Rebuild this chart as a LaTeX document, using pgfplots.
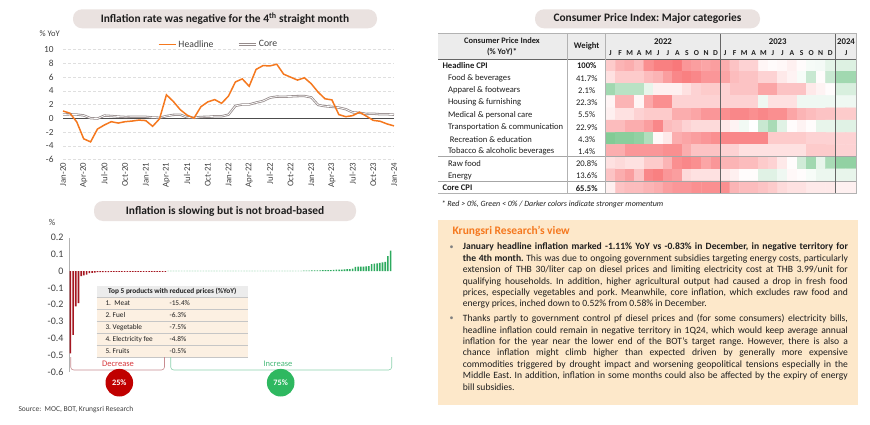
\documentclass[border=0pt]{standalone}
\usepackage{fontspec}
\setmainfont{Carlito}
\usepackage{pgfplots}
\pgfplotsset{compat=1.18}
\frenchspacing

\definecolor{orangeK}{RGB}{245,120,30}
\definecolor{pill}{RGB}{234,226,224}
\definecolor{coregray}{RGB}{150,140,140}
\definecolor{barred}{RGB}{165,22,32}
\definecolor{bargreen}{RGB}{45,170,95}
\definecolor{peach}{RGB}{253,232,202}
\definecolor{peachlt}{RGB}{252,240,226}
\definecolor{hdrgray}{RGB}{236,236,236}
\definecolor{txt}{RGB}{30,30,30}
\definecolor{ticktxt}{RGB}{64,64,64}
\definecolor{circred}{RGB}{192,0,0}
\definecolor{circgreen}{RGB}{46,184,96}
\definecolor{decred}{RGB}{215,55,60}
\definecolor{decbr}{RGB}{200,140,145}
\definecolor{incgreen}{RGB}{70,185,120}
\definecolor{incbr}{RGB}{140,210,175}

\newcommand{\fs}[2]{\fontsize{#1}{#2}\selectfont}

\begin{document}
\begin{tikzpicture}[x=1pt,y=1pt]
\path[fill=white, use as bounding box] (0,0) rectangle (870,-425);

% ---------- titles
\fill[pill, rounded corners=9pt] (73,-9.3) rectangle (377,-28.3);
\node[font=\fs{11.4}{13}\bfseries, text=txt] at (225,-18.8) {Inflation rate was negative for the 4\textsuperscript{th} straight month};
\fill[pill, rounded corners=9pt] (94,-201) rectangle (356,-221);
\node[font=\fs{11.4}{13}\bfseries, text=txt] at (225,-211) {Inflation is slowing but is not broad-based};
\fill[pill, rounded corners=9pt] (535,-9.3) rectangle (760,-28.3);
\node[font=\fs{11.4}{13}\bfseries, text=txt] at (647.5,-18.8) {Consumer Price Index: Major categories};

% ---------- headline and core CPI
\node[anchor=west, font=\fs{8.5}{9}, text=ticktxt] at (36,-34) {\% YoY};
\begin{axis}[
  at={(63pt,-159.5pt)}, anchor=south west,
  scale only axis, width=331pt, height=110pt,
  xmin=0, xmax=48, ymin=-6, ymax=10,
  axis line style={draw=none},
  major tick style={draw=none},
  ytick={-6,-4,...,10},
  xtick={0,3,...,48},
  xticklabels={Jan-20,Apr-20,Jul-20,Oct-20,Jan-21,Apr-21,Jul-21,Oct-21,Jan-22,Apr-22,Jul-22,Oct-22,Jan-23,Apr-23,Jul-23,Oct-23,Jan-24},
  x tick label style={rotate=90, anchor=east, font=\fs{8.8}{9}, text=ticktxt},
  y tick label style={font=\fs{9.3}{10}, text=ticktxt, xshift=-6pt},
  /pgf/number format/assume math mode=true,
  ymajorgrids, grid style={densely dashed, gray!25, line width=0.4pt},
  clip=false,
  reverse legend,
  legend style={at={(0.47,1.045)}, anchor=center, draw=none, fill=none,
    legend columns=2, font=\fs{9.7}{10}, text=ticktxt,
    /tikz/every even column/.append style={column sep=22pt}},
  legend cell align=left,
]
\draw[black!70, line width=0.6pt] (axis cs:0,0) -- (axis cs:48,0);
\addplot[coregray, line width=0.8pt, double=white, double distance=0.7pt] coordinates {
(0,0.55) (1,0.57) (2,0.54) (3,0.41) (4,0.01) (5,-0.05) (6,0.39) (7,0.33) (8,0.25) (9,0.19) (10,0.21) (11,0.21)
(12,0.21) (13,0.11) (14,0.08) (15,0.32) (16,0.49) (17,0.52) (18,0.14) (19,0.07) (20,0.19) (21,0.21) (22,0.29) (23,0.29)
(24,0.52) (25,1.80) (26,2.00) (27,2.00) (28,2.28) (29,2.51) (30,2.99) (31,3.15) (32,3.12) (33,3.17) (34,3.22) (35,3.23)
(36,3.04) (37,1.93) (38,1.75) (39,1.66) (40,1.55) (41,1.32) (42,0.86) (43,0.79) (44,0.63) (45,0.66) (46,0.58) (47,0.58)
(48,0.52)};
\addlegendentry{Core}
\addplot[orangeK, line width=1.5pt] coordinates {
(0,1.05) (1,0.74) (2,-0.54) (3,-2.99) (4,-3.44) (5,-1.57) (6,-0.98) (7,-0.50) (8,-0.70) (9,-0.50) (10,-0.41) (11,-0.27)
(12,-0.34) (13,-1.17) (14,-0.08) (15,3.41) (16,2.44) (17,1.25) (18,0.45) (19,0.02) (20,1.68) (21,2.38) (22,2.71) (23,2.17)
(24,3.23) (25,5.28) (26,5.73) (27,4.65) (28,7.10) (29,7.66) (30,7.61) (31,7.86) (32,6.41) (33,5.98) (34,5.55) (35,5.89)
(36,5.02) (37,3.79) (38,2.83) (39,2.67) (40,0.53) (41,0.23) (42,0.38) (43,0.88) (44,0.30) (45,-0.31) (46,-0.44) (47,-0.83)
(48,-1.11)};
\addlegendentry{Headline}
\end{axis}

% ---------- contributions by item
\node[font=\fs{9}{10}, text=ticktxt] at (52,-222) {\%};
\begin{axis}[
  at={(69pt,-371.7pt)}, anchor=south west,
  scale only axis, width=323pt, height=134pt,
  xmin=0.5, xmax=119.5, ymin=-0.6, ymax=0.2,
  axis x line=none, axis y line*=left,
  axis line style={gray!60, line width=0.6pt},
  major tick style={draw=none},
  ytick={-0.6,-0.5,-0.4,-0.3,-0.2,-0.1,0,0.1,0.2},
  yticklabels={-0.6,-0.5,-0.4,-0.3,-0.2,-0.1,0,0.1,0.2},
  y tick label style={font=\fs{10}{11}, text=ticktxt, xshift=-2pt},
  clip=false,
]
\addplot[ybar, bar width=0.6, bar shift=0pt, fill=barred, draw=none] coordinates {
(1,-0.49) (2,-0.38) (3,-0.21) (4,-0.19) (5,-0.03) (6,-0.025) (7,-0.02) (8,-0.012) (9,-0.01) (10,-0.008)
(11,-0.006) (12,-0.006) (13,-0.005) (14,-0.005) (15,-0.005) (16,-0.004) (17,-0.004) (18,-0.004) (19,-0.004) (20,-0.004)
(21,-0.004) (22,-0.004) (23,-0.004) (24,-0.004) (25,-0.004) (26,-0.004) (27,-0.004) (28,-0.004) (29,-0.004) (30,-0.004)
(31,-0.004) (32,-0.004) (33,-0.004) (34,-0.004) (35,-0.004) (36,-0.004)};
\addplot[ybar, bar width=0.6, bar shift=0pt, fill=bargreen, draw=none] coordinates {
(37,0.002) (38,0.002) (39,0.002) (40,0.002) (41,0.002) (42,0.002) (43,0.002) (44,0.002) (45,0.002) (46,0.002)
(47,0.002) (48,0.002) (49,0.002) (50,0.002) (51,0.002) (52,0.002) (53,0.002) (54,0.002) (55,0.002) (56,0.002)
(57,0.002) (58,0.002) (59,0.002) (60,0.002) (61,0.002) (62,0.002) (63,0.002) (64,0.002) (65,0.002) (66,0.002)
(67,0.002) (68,0.002) (69,0.002) (70,0.002) (71,0.002) (72,0.002) (73,0.002) (74,0.002) (75,0.002) (76,0.002)
(77,0.002) (78,0.002) (79,0.002) (80,0.002) (81,0.002) (82,0.002) (83,0.002) (84,0.002) (85,0.002) (86,0.002)
(87,0.004) (88,0.004) (89,0.004) (90,0.005) (91,0.005) (92,0.005) (93,0.005) (94,0.006) (95,0.006) (96,0.006)
(97,0.007) (98,0.008) (99,0.009) (100,0.01) (101,0.01) (102,0.011) (103,0.012) (104,0.013) (105,0.015) (106,0.026)
(107,0.027) (108,0.028) (109,0.028) (110,0.029) (111,0.03) (112,0.042) (113,0.045) (114,0.047) (115,0.05) (116,0.052)
(117,0.055) (118,0.09) (119,0.123)};
\end{axis}

% inset table
\fill[hdrgray] (96.7,-285.7) rectangle (248,-297);
\fill[peachlt] (96.7,-297) rectangle (248,-357.3);
\foreach \yy in {297,309,321.2,333.2,345.3,357.3}
  \draw[gray!45, line width=0.5pt] (96.7,-\yy) -- (248,-\yy);
\node[font=\fs{7.3}{8}\bfseries, text=txt] at (172.3,-291.3) {Top 5 products with reduced prices (\%YoY)};
\foreach \lab/\val/\yy in {1.\ \ Meat/-15.4\%/303, 2. Fuel/-6.3\%/315.1, 3. Vegetable/-7.5\%/327.2, 4. Electricity fee/-4.8\%/339.2, 5. Fruits/-0.5\%/351.3}{
  \node[anchor=west, font=\fs{7.3}{8}, text=txt] at (102,-\yy) {\lab};
  \node[anchor=west, font=\fs{7.3}{8}, text=txt] at (166,-\yy) {\val};
}

% brackets and shares
\draw[decbr, line width=0.6pt, rounded corners=3pt] (70.7,-357) -- (70.7,-370) -- (164.5,-370) -- (164.5,-357);
\node[font=\fs{8.5}{9}, text=decred] at (118,-364) {Decrease};
\draw[incbr, line width=0.6pt, rounded corners=3pt] (170.7,-357) -- (170.7,-370) -- (391.7,-370) -- (391.7,-357);
\node[font=\fs{8.5}{9}, text=incgreen] at (278,-364) {Increase};
\fill[circred] (119.3,-382.7) circle (13.8);
\node[font=\fs{8.3}{9}\bfseries, text=white] at (119.3,-382.7) {25\%};
\fill[circgreen] (280.7,-382.7) circle (13.8);
\node[font=\fs{8.3}{9}\bfseries, text=white] at (280.7,-382.7) {75\%};
\node[anchor=west, font=\fs{7.5}{8}, text=ticktxt] at (15,-410) {Source:\ \ MOC, BOT, Krungsri Research};

% ---------- CPI heat table
\fill[hdrgray] (438,-33.7) rectangle (856.7,-59);
\begin{axis}[
  at={(605.7pt,-193.3pt)}, anchor=south west,
  scale only axis, width=229.3pt, height=134.3pt,
  xmin=-0.5, xmax=23.5, ymin=-0.5, ymax=10.5, y dir=reverse,
  hide axis,
  colormap={cpi}{rgb255(0cm)=(99,190,123); rgb255(1cm)=(255,255,255); rgb255(2cm)=(248,105,107)},
  point meta min=-1, point meta max=1,
]
\addplot[matrix plot*, mesh/cols=24, point meta=explicit] coordinates {
(0,0)[0.35] (1,0)[0.5] (2,0)[0.55] (3,0)[0.45] (4,0)[0.75] (5,0)[0.85] (6,0)[0.85] (7,0)[0.9] (8,0)[0.7] (9,0)[0.65] (10,0)[0.6] (11,0)[0.65] (12,0)[0.55] (13,0)[0.4] (14,0)[0.3] (15,0)[0.3] (16,0)[0.06] (17,0)[0.03] (18,0)[0.05] (19,0)[0.1] (20,0)[0.03] (21,0)[-0.06] (22,0)[-0.07] (23,0)[-0.17]
(0,1)[0.2] (1,1)[0.35] (2,1)[0.35] (3,1)[0.35] (4,1)[0.45] (5,1)[0.5] (6,1)[0.65] (7,1)[0.8] (8,1)[0.85] (9,1)[0.8] (10,1)[0.7] (11,1)[0.7] (12,1)[0.6] (13,1)[0.45] (14,1)[0.4] (15,1)[0.4] (16,1)[0.3] (17,1)[0.3] (18,1)[0.15] (19,1)[0.08] (20,1)[-0.05] (21,1)[-0.35] (22,1)[0.02] (23,1)[-0.35]
(0,2)[-0.6] (1,2)[-0.45] (2,2)[-0.45] (3,2)[-0.45] (4,2)[-0.15] (5,2)[0.1] (6,2)[0.1] (7,2)[0.1] (8,2)[0.2] (9,2)[0.3] (10,2)[0.35] (11,2)[0.35] (12,2)[0.3] (13,2)[0.4] (14,2)[0.4] (15,2)[0.4] (16,2)[0.6] (17,2)[0.6] (18,2)[0.4] (19,2)[0.4] (20,2)[0.4] (21,2)[0.15] (22,2)[0.08] (23,2)[0.02]
(0,3)[0.07] (1,3)[0.5] (2,3)[0.5] (3,3)[0.07] (4,3)[0.58] (5,3)[0.75] (6,3)[0.75] (7,3)[0.3] (8,3)[0.3] (9,3)[0.3] (10,3)[0.3] (11,3)[0.3] (12,3)[0.3] (13,3)[0.3] (14,3)[0.3] (15,3)[0.3] (16,3)[-0.1] (17,3)[0.2] (18,3)[0.2] (19,3)[0.2] (20,3)[-0.1] (21,3)[-0.1] (22,3)[-0.1] (23,3)[-0.1]
(0,4)[0.1] (1,4)[0.2] (2,4)[0.2] (3,4)[0.3] (4,4)[0.35] (5,4)[0.35] (6,4)[0.35] (7,4)[0.55] (8,4)[0.55] (9,4)[0.6] (10,4)[0.7] (11,4)[0.7] (12,4)[0.75] (13,4)[0.8] (14,4)[0.8] (15,4)[0.75] (16,4)[0.8] (17,4)[0.75] (18,4)[0.75] (19,4)[0.6] (20,4)[0.5] (21,4)[0.45] (22,4)[0.4] (23,4)[0.4]
(0,5)[0.45] (1,5)[0.45] (2,5)[0.55] (3,5)[0.55] (4,5)[0.65] (5,5)[0.8] (6,5)[0.45] (7,5)[0.4] (8,5)[0.3] (9,5)[0.25] (10,5)[0.25] (11,5)[0.25] (12,5)[0.15] (13,5)[0.08] (14,5)[-0.08] (15,5)[0] (16,5)[-0.35] (17,5)[-0.55] (18,5)[-0.2] (19,5)[0.02] (20,5)[0.08] (21,5)[0.02] (22,5)[-0.15] (23,5)[-0.15]
(0,6)[-0.8] (1,6)[-0.75] (2,6)[-0.75] (3,6)[-0.7] (4,6)[-0.5] (5,6)[0.05] (6,6)[0.15] (7,6)[0.55] (8,6)[0.6] (9,6)[0.65] (10,6)[0.7] (11,6)[0.75] (12,6)[0.8] (13,6)[0.8] (14,6)[0.8] (15,6)[0.8] (16,6)[0.8] (17,6)[0.35] (18,6)[0.35] (19,6)[0.35] (20,6)[0.35] (21,6)[0.3] (22,6)[0.3] (23,6)[0.3]
(0,7)[0.55] (1,7)[0.55] (2,7)[0.7] (3,7)[0.7] (4,7)[0.7] (5,7)[0.7] (6,7)[0.75] (7,7)[0.75] (8,7)[0.55] (9,7)[0.4] (10,7)[0.4] (11,7)[0.4] (12,7)[0.3] (13,7)[0.3] (14,7)[0.2] (15,7)[0.2] (16,7)[0.2] (17,7)[0.2] (18,7)[0.2] (19,7)[0.2] (20,7)[0.2] (21,7)[0.35] (22,7)[0.35] (23,7)[0.35]
(0,8)[0.2] (1,8)[0.25] (2,8)[0.2] (3,8)[0.2] (4,8)[0.35] (5,8)[0.35] (6,8)[0.5] (7,8)[0.75] (8,8)[0.8] (9,8)[0.75] (10,8)[0.6] (11,8)[0.7] (12,8)[0.5] (13,8)[0.5] (14,8)[0.45] (15,8)[0.45] (16,8)[0.35] (17,8)[0.3] (18,8)[0.15] (19,8)[0.02] (20,8)[-0.3] (21,8)[-0.6] (22,8)[-0.15] (23,8)[-0.55]
(0,9)[0.4] (1,9)[0.55] (2,9)[0.65] (3,9)[0.4] (4,9)[0.8] (5,9)[0.85] (6,9)[0.7] (7,9)[0.65] (8,9)[0.25] (9,9)[0.2] (10,9)[0.2] (11,9)[0.2] (12,9)[0.15] (13,9)[0.1] (14,9)[0.02] (15,9)[0.02] (16,9)[-0.2] (17,9)[-0.2] (18,9)[-0.1] (19,9)[0.05] (20,9)[0.02] (21,9)[-0.05] (22,9)[-0.12] (23,9)[-0.12]
(0,10)[0.1] (1,10)[0.4] (2,10)[0.45] (3,10)[0.45] (4,10)[0.5] (5,10)[0.55] (6,10)[0.65] (7,10)[0.7] (8,10)[0.7] (9,10)[0.75] (10,10)[0.75] (11,10)[0.75] (12,10)[0.75] (13,10)[0.5] (14,10)[0.45] (15,10)[0.45] (16,10)[0.4] (17,10)[0.35] (18,10)[0.25] (19,10)[0.2] (20,10)[0.2] (21,10)[0.15] (22,10)[0.15] (23,10)[0.15]
};
\end{axis}
\begin{axis}[
  at={(835pt,-193.3pt)}, anchor=south west,
  scale only axis, width=21.7pt, height=134.3pt,
  xmin=-0.5, xmax=1.5, ymin=-0.5, ymax=10.5, y dir=reverse,
  hide axis,
  colormap={cpi}{rgb255(0cm)=(99,190,123); rgb255(1cm)=(255,255,255); rgb255(2cm)=(248,105,107)},
  point meta min=-1, point meta max=1,
]
\addplot[matrix plot*, mesh/cols=2, point meta=explicit] coordinates {
(0,0)[-0.22] (1,0)[-0.22]
(0,1)[-0.6] (1,1)[-0.6]
(0,2)[-0.25] (1,2)[-0.25]
(0,3)[-0.1] (1,3)[-0.1]
(0,4)[0.35] (1,4)[0.35]
(0,5)[-0.2] (1,5)[-0.2]
(0,6)[0.3] (1,6)[0.3]
(0,7)[0.3] (1,7)[0.3]
(0,8)[-0.7] (1,8)[-0.7]
(0,9)[-0.15] (1,9)[-0.15]
(0,10)[0.1] (1,10)[0.1]
};
\end{axis}

% table rules
\draw[gray!60, line width=0.8pt] (438,-33.7) -- (856.7,-33.7);
\draw[gray!80!black, line width=0.8pt] (438,-59) -- (856.7,-59);
\draw[gray!70, line width=0.6pt] (438,-156.7) -- (856.7,-156.7);
\draw[gray!70, line width=1.2pt] (438,-181.1) -- (856.7,-181.1);
\draw[gray!60, line width=0.8pt] (438,-193.3) -- (856.7,-193.3);
\draw[gray!60, line width=0.6pt] (567.7,-33.7) -- (567.7,-193.3);
\draw[gray!60, line width=0.6pt] (605.7,-33.7) -- (605.7,-193.3);
\draw[gray!80!black, line width=0.8pt] (720.35,-33.7) -- (720.35,-193.3);
\draw[gray!80!black, line width=0.8pt] (835,-33.7) -- (835,-193.3);
\draw[gray!60, line width=0.6pt] (856.7,-33.7) -- (856.7,-193.3);

% header text
\node[font=\fs{8.4}{9}\bfseries, text=txt] at (502,-41) {Consumer Price Index};
\node[font=\fs{8.4}{9}\bfseries, text=txt] at (502,-52.3) {(\% YoY)*};
\node[font=\fs{8.6}{9}\bfseries, text=txt] at (586.7,-46.7) {Weight};
\node[font=\fs{8.8}{9}\bfseries, text=txt] at (663,-41.7) {2022};
\node[font=\fs{8.8}{9}\bfseries, text=txt] at (777.7,-41.7) {2023};
\node[font=\fs{8.8}{9}\bfseries, text=txt] at (846,-41.7) {2024};
\foreach \m [count=\k from 0] in {J,F,M,A,M,J,J,A,S,O,N,D,J,F,M,A,M,J,J,A,S,O,N,D}
  \node[font=\fs{7.6}{8}\bfseries, text=txt] at ({605.7+9.554*(\k+0.5)},-53.3) {\m};
\node[font=\fs{7.6}{8}\bfseries, text=txt] at (846,-53.3) {J};

% row labels and weights
\node[anchor=west, font=\fs{8.6}{9}\bfseries, text=txt] at (439,-66) {Headline CPI};
\node[font=\fs{8.6}{9}\bfseries, text=txt] at (586.7,-66) {100\%};
\foreach \lab/\w/\yy/\xx in {Food \& beverages/41.7\%/78.3/444.5, Apparel \& footwears/2.1\%/90.5/444.5, Housing \& furnishing/22.3\%/102.7/444.5, Medical \& personal care/5.5\%/115/444.5, Transportation \& communication/22.9\%/127.2/444.5, Recreation \& education/4.3\%/139.4/446.3, Tobacco \& alcoholic beverages/1.4\%/151.6/444.5, Raw food/20.8\%/163.8/444.5, Energy/13.6\%/176/444.5}{
  \node[anchor=west, font=\fs{8.6}{9}, text=txt] at (\xx,-\yy) {\lab};
  \node[font=\fs{8.6}{9}, text=txt] at (586.7,-\yy) {\w};
}
\node[anchor=west, font=\fs{8.6}{9}\bfseries, text=txt] at (439,-188.2) {Core CPI};
\node[font=\fs{8.6}{9}\bfseries, text=txt] at (586.7,-188.2) {65.5\%};
\node[anchor=west, font=\fs{8}{9}\itshape, text=txt] at (438,-204) {* Red > 0\%, Green < 0\% / Darker colors indicate stronger momentum};

% ---------- view box
\fill[peach] (438,-220) rectangle (857.5,-405);
\node[anchor=west, font=\fs{11.5}{13}\bfseries, text=orangeK] at (449,-231.7) {Krungsri Research’s view};
\node[font=\fs{8}{9}, text=gray] at (451.7,-247.3) {\textbullet};
\node[anchor=north west, inner sep=0pt, text width=385pt, align=justify, font=\fs{9.6}{11.4}, text=txt] at (462.7,-243) {\textbf{January headline inflation marked -1.11\% YoY vs -0.83\% in December, in negative territory for\linebreak the 4th month.} This was due to ongoing government subsidies targeting energy costs, particularly\linebreak extension of THB 30/liter cap on diesel prices and limiting electricity cost at THB 3.99/unit for\linebreak qualifying households. In addition, higher agricultural output had caused a drop in fresh food\linebreak prices, especially vegetables and pork. Meanwhile, core inflation, which excludes raw food and\linebreak energy prices, inched down to 0.52\% from 0.58\% in December.};
\node[font=\fs{8}{9}, text=gray] at (451.7,-318.7) {\textbullet};
\node[anchor=north west, inner sep=0pt, text width=385pt, align=justify, font=\fs{9.6}{11.4}, text=txt] at (462.7,-314.4) {Thanks partly to government control pf diesel prices and (for some consumers) electricity bills,\linebreak headline inflation could remain in negative territory in 1Q24, which would keep average annual\linebreak inflation for the year near the lower end of the BOT’s target range. However, there is also a\linebreak chance inflation might climb higher than expected driven by generally more expensive\linebreak commodities triggered by drought impact and worsening geopolitical tensions especially in the\linebreak Middle East. In addition, inflation in some months could also be affected by the expiry of energy\linebreak bill subsidies.};
\end{tikzpicture}
\end{document}
